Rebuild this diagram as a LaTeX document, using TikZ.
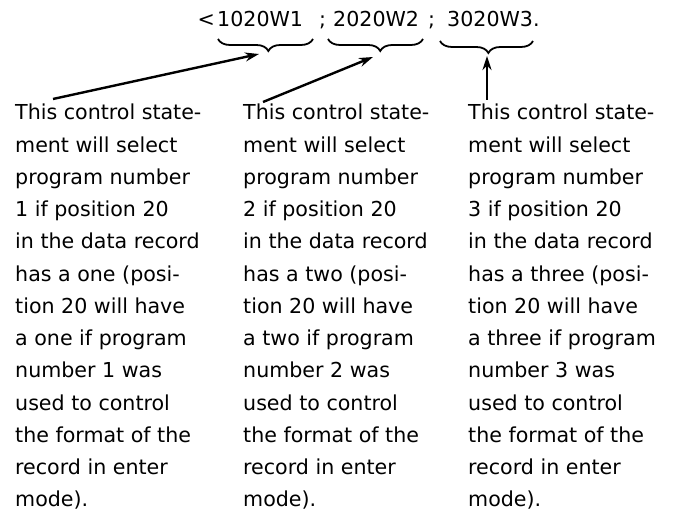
\documentclass[tikz,border=0pt]{standalone}
\usepackage{fontspec}
\setmainfont{DejaVu Sans}
\usetikzlibrary{decorations.pathreplacing,arrows.meta}
\begin{document}
\begin{tikzpicture}[x=1pt,y=1pt,
  txt/.style={font=\fontsize{20.6}{32.25}\selectfont, inner sep=0pt, anchor=base west},
  col/.style={txt, align=left},
  brc/.style={decorate, decoration={brace, mirror, amplitude=12pt, aspect=#1}, line width=1.8pt},
  arr/.style={-{Stealth[length=14pt,width=9pt]}, line width=2.4pt}]
\useasboundingbox (0,0) rectangle (674,518);
% top statement
\node[txt, anchor=base east] (lt) at (215,491) {<};
\node[txt] (t1) at (217,491) {1020W1};
\node[txt] (s1) at (319,491) {;};
\node[txt] (t2) at (333,491) {2020W2};
\node[txt] (s2) at (428,491) {;};
\node[txt] (t3) at (447,491) {3020W3.};
% braces
\coordinate (br1l) at (218,479);
\coordinate (br1r) at (313,479);
\coordinate (br2l) at (328,479);
\coordinate (br2r) at (423,479);
\coordinate (br3l) at (440,477);
\coordinate (br3r) at (533,477);
\draw[brc=0.53] (br1l) -- (br1r);
\draw[brc=0.55] (br2l) -- (br2r);
\draw[brc=0.52] (br3l) -- (br3r);
% columns (anchored at the baseline of the last line)
\node[col] (c1) at (15,11) {This control state-\\ment will select\\program number\\1 if position 20\\in the data record\\has a one (posi-\\tion 20 will have\\a one if program\\number 1 was\\used to control\\the format of the\\record in enter\\mode).};
\node[col] (c2) at (243,11) {This control state-\\ment will select\\program number\\2 if position 20\\in the data record\\has a two (posi-\\tion 20 will have\\a two if program\\number 2 was\\used to control\\the format of the\\record in enter\\mode).};
\node[col] (c3) at (468,11) {This control state-\\ment will select\\program number\\3 if position 20\\in the data record\\has a three (posi-\\tion 20 will have\\a three if program\\number 3 was\\used to control\\the format of the\\record in enter\\mode).};
% arrows
\coordinate (a1) at (53,419);
\coordinate (h1) at (259,464);
\coordinate (a2) at (263,416);
\coordinate (h2) at (373,461);
\coordinate (a3) at (487,418);
\coordinate (h3) at (487,462);
\draw[arr] (a1) -- (h1);
\draw[arr] (a2) -- (h2);
\draw[arr] (a3) -- (h3);
\end{tikzpicture}
\end{document}
